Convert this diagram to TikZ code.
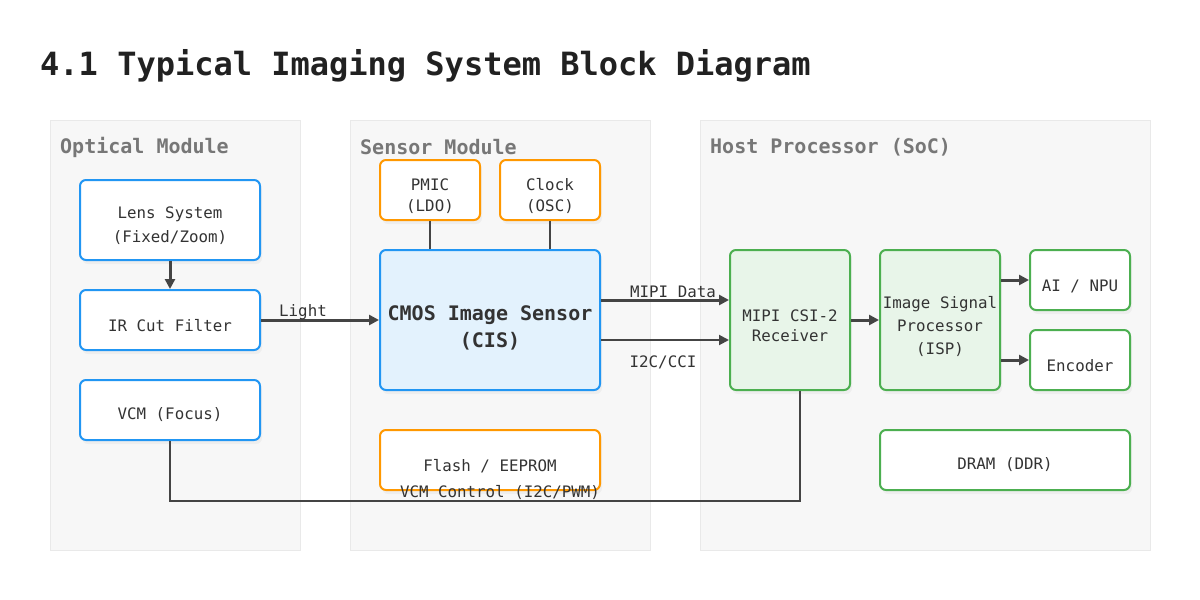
\documentclass[tikz,border=0pt]{standalone}
\usepackage{fontspec}
\setmainfont{DejaVu Sans Mono}
\usetikzlibrary{arrows.meta,shadows}
\definecolor{blueb}{HTML}{2196F3}
\definecolor{bluef}{HTML}{E3F2FD}
\definecolor{orangeb}{HTML}{FF9800}
\definecolor{greenb}{HTML}{4CAF50}
\definecolor{greenf}{HTML}{E8F5E9}
\definecolor{grpfill}{HTML}{F7F7F7}
\definecolor{grpline}{HTML}{E9E9E9}
\definecolor{wire}{HTML}{444444}
\definecolor{txt}{HTML}{333333}
\definecolor{grptxt}{HTML}{777777}
\tikzset{
  grp/.style={fill=grpfill, draw=grpline, line width=1pt},
  grplabel/.style={anchor=west, text=grptxt, font=\fontsize{20}{24}\selectfont\bfseries, inner sep=0pt},
  box/.style={rounded corners=6pt, line width=2pt, fill=white, inner sep=0pt,
    drop shadow={opacity=0.07, shadow xshift=2pt, shadow yshift=-4pt}},
  bluebox/.style={box, draw=blueb},
  orangebox/.style={box, draw=orangeb},
  greenbox/.style={box, draw=greenb},
  boxtxt/.style={text=txt, align=center, inner sep=0pt, font=\fontsize{15.8}{24}\selectfont},
  arr/.style={draw=wire, line width=3pt, -{Triangle[length=10pt, width=10pt]}},
  tarr/.style={draw=wire, line width=2pt, -{Triangle[length=10pt, width=10pt]}},
  wireline/.style={draw=wire, line width=2pt},
  lbl/.style={text=txt, font=\fontsize{15.8}{20}\selectfont, inner sep=0pt}
}
\begin{document}
\begin{tikzpicture}[x=1pt, y=-1pt]
\useasboundingbox (0,0) rectangle (1200,600);
\fill[white] (0,0) rectangle (1200,600);

\node[anchor=west, inner sep=0pt, text=black!87, font=\fontsize{32}{36}\selectfont\bfseries] (title) at (40,66) {4.1 Typical Imaging System Block Diagram};

% groups
\draw[grp] (50,120) rectangle (300,550);
\draw[grp] (350,120) rectangle (650,550);
\draw[grp] (700,120) rectangle (1150,550);
\node[grplabel] (g1) at (60,147) {Optical Module};
\node[grplabel] (g2) at (360,147) {Sensor Module};
\node[grplabel] (g3) at (710,147) {Host Processor (SoC)};

% optical
\node[bluebox, minimum width=180pt, minimum height=80pt] (lens) at (170,220) {};
\node[boxtxt] (lenst) at (170,226) {Lens System\\(Fixed/Zoom)};
\node[bluebox, minimum width=180pt, minimum height=60pt] (ir) at (170,320) {};
\node[boxtxt] (irt) at (170,326) {IR Cut Filter};
\node[bluebox, minimum width=180pt, minimum height=60pt] (vcm) at (170,410) {};
\node[boxtxt] (vcmt) at (170,415) {VCM (Focus)};

% sensor
\node[orangebox, minimum width=100pt, minimum height=60pt] (pmic) at (430,190) {};
\node[boxtxt, font=\fontsize{15.8}{21}\selectfont] (pmict) at (430,196) {PMIC\\(LDO)};
\node[orangebox, minimum width=100pt, minimum height=60pt] (clk) at (550,190) {};
\node[boxtxt, font=\fontsize{15.8}{21}\selectfont] (clkt) at (550,196) {Clock\\(OSC)};
\node[bluebox, fill=bluef, minimum width=220pt, minimum height=140pt] (cmos) at (490,320) {};
\node[boxtxt, font=\fontsize{20}{27}\selectfont\bfseries] (cmost) at (490,328) {CMOS Image Sensor\\(CIS)};
\node[orangebox, minimum width=220pt, minimum height=60pt] (flash) at (490,460) {};
\node[boxtxt] (flasht) at (490,466) {Flash / EEPROM};

% host
\node[greenbox, fill=greenf, minimum width=120pt, minimum height=140pt] (csi) at (790,320) {};
\node[boxtxt, font=\fontsize{15.8}{20}\selectfont] (csit) at (790,326) {MIPI CSI-2\\Receiver};
\node[greenbox, fill=greenf, minimum width=120pt, minimum height=140pt] (isp) at (940,320) {};
\node[boxtxt, font=\fontsize{15.8}{23}\selectfont] (ispt) at (940,326) {Image Signal\\Processor\\(ISP)};
\node[greenbox, minimum width=100pt, minimum height=60pt] (ai) at (1080,280) {};
\node[boxtxt] (ait) at (1080,286) {AI / NPU};
\node[greenbox, minimum width=100pt, minimum height=60pt] (enc) at (1080,360) {};
\node[boxtxt] (enct) at (1080,366) {Encoder};
\node[greenbox, minimum width=250pt, minimum height=60pt] (dram) at (1005,460) {};
\node[boxtxt] (dramt) at (1005,465) {DRAM (DDR)};

% connectors
\draw[arr] (lens) -- (ir);
\draw[arr] (ir) -- (cmos);
\node[lbl] (llight) at (303,312) {Light};
\draw[wireline] (pmic.south) -- (pmic.south |- cmos.north);
\draw[wireline] (clk.south) -- (clk.south |- cmos.north);
\draw[arr] ([yshift=20pt]cmos.east) -- ([yshift=20pt]csi.west);
\node[lbl] (lmipi) at (673,292) {MIPI Data};
\draw[tarr] ([yshift=-20pt]cmos.east) -- ([yshift=-20pt]csi.west);
\node[lbl] (li2c) at (663,362) {I2C/CCI};
\draw[arr] (csi) -- (isp);
\draw[arr] ([yshift=40pt]isp.east) -- (ai.west);
\draw[arr] ([yshift=-40pt]isp.east) -- (enc.west);
\draw[wireline] (vcm.south) -- ++(0,60) -| ([xshift=10pt]csi.south);
\node[lbl] (lvcm) at (500,492) {VCM Control (I2C/PWM)};
\end{tikzpicture}
\end{document}
